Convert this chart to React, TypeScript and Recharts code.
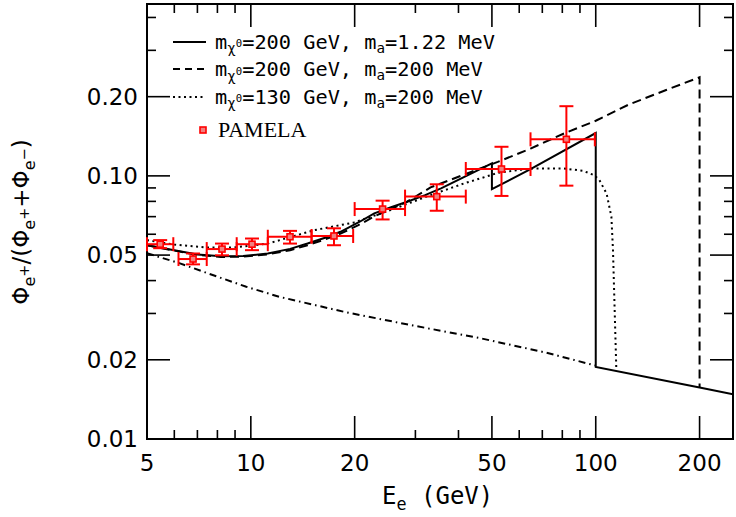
import {
  ComposedChart,
  XAxis,
  YAxis,
  Line,
  Scatter,
  ErrorBar,
  ReferenceArea,
} from "recharts";

// plot box in px (follows from the chart margins below)
const PLOT_LEFT = 147;
const PLOT_RIGHT = 733;
const PLOT_TOP = 4;
const PLOT_BOTTOM = 439;

const xTicks = [5, 6, 7, 8, 9, 10, 20, 30, 40, 50, 60, 70, 80, 90, 100, 200];
const xMajor = [5, 10, 20, 50, 100, 200];
const yTicks = [0.01, 0.02, 0.03, 0.04, 0.05, 0.06, 0.07, 0.08, 0.09, 0.1, 0.2, 0.3, 0.4];
const yMajor = [0.01, 0.02, 0.05, 0.1, 0.2];
const yMajorLabels = ["0.01", "0.02", "0.05", "0.10", "0.20"];

// m_chi = 200 GeV, m_a = 1.22 MeV
const solidE = [5, 6, 7, 8.2, 9.5, 11.2, 13, 14.6, 16.5, 18.2, 20.5, 22.8, 25.5, 28.4, 32, 35.6, 41.6, 50, 50, 64.7, 100, 100, 200, 250];
const solidV = [0.0545, 0.0522, 0.0503, 0.0495, 0.0496, 0.0507, 0.0528, 0.0553, 0.0583, 0.0613, 0.0665, 0.072, 0.076, 0.0797, 0.0845, 0.0896, 0.0991, 0.1115, 0.089, 0.106, 0.1455, 0.0188, 0.0157, 0.0148];

// m_chi = 200 GeV, m_a = 200 MeV
const dashE = [5, 6, 7, 8.2, 9.5, 11.2, 13, 14.6, 16.5, 18.2, 20.5, 23, 28, 33.2, 43.5, 52, 64.7, 81, 100, 125, 160, 200, 200];
const dashV = [0.0545, 0.052, 0.0501, 0.0492, 0.0493, 0.0503, 0.0522, 0.0545, 0.0575, 0.0603, 0.065, 0.0705, 0.079, 0.0904, 0.1035, 0.113, 0.127, 0.145, 0.162, 0.187, 0.212, 0.237, 0.0157];

// m_chi = 130 GeV, m_a = 200 MeV
const dotE = [5, 6, 7.5, 9, 11.2, 13, 15.3, 19.9, 25, 33.2, 41.5, 52, 64.7, 80.9, 92, 99, 102.5, 107.5, 111, 112.2, 114.7];
const dotV = [0.057, 0.0548, 0.0534, 0.0535, 0.0553, 0.0585, 0.0622, 0.0665, 0.0735, 0.0845, 0.0936, 0.1026, 0.1067, 0.1067, 0.1045, 0.1006, 0.0963, 0.0857, 0.07, 0.0522, 0.0186];

// secondary background
const bgE = [5, 6.2, 7.75, 9.7, 12.1, 18.9, 29.5, 46, 71.7, 100];
const bgV = [0.0508, 0.0466, 0.042, 0.0379, 0.0347, 0.0303, 0.027, 0.0242, 0.0213, 0.019];

// PAMELA
const pamE = [5.46, 6.8, 8.25, 10.08, 12.99, 17.42, 24.1, 34.6, 53.3, 82.2];
const pamELo = [5.0, 6.17, 7.45, 9.1, 11.2, 15.0, 20.0, 28.0, 42.0, 64.7];
const pamEHi = [5.96, 7.45, 9.1, 11.2, 15.0, 19.8, 28.0, 42.0, 64.7, 99.4];
const pamV = [0.055, 0.0483, 0.0527, 0.055, 0.0587, 0.0591, 0.0748, 0.0834, 0.1062, 0.1377];
const pamVLo = [0.0531, 0.0461, 0.0499, 0.0522, 0.0553, 0.0545, 0.0683, 0.0737, 0.0839, 0.0918];
const pamVHi = [0.057, 0.0507, 0.0553, 0.0578, 0.0618, 0.0632, 0.0805, 0.0929, 0.129, 0.184];

const toPts = (es: number[], vs: number[]) => es.map((e, i) => ({ e, v: vs[i] }));

const solid = toPts(solidE, solidV);
const dashed = toPts(dashE, dashV);
const dotted = toPts(dotE, dotV);
const background = toPts(bgE, bgV);
const pamela = pamE.map((e, i) => ({
  e,
  v: pamV[i],
  ex: [e - pamELo[i], pamEHi[i] - e],
  ey: [pamV[i] - pamVLo[i], pamVHi[i] - pamV[i]],
}));

const tickFont = { fontFamily: "DejaVu Sans", fontSize: 23, fill: "#000" };
const monoFont = "'DejaVu Sans Mono', monospace";

const XTick = ({ x, payload }: any) => {
  const val = payload.value;
  const major = xMajor.includes(val);
  const len = major ? 23 : 9;
  return (
    <g>
      <line x1={x} x2={x} y1={PLOT_BOTTOM} y2={PLOT_BOTTOM - len} stroke="#000" strokeWidth={1.6} />
      <line x1={x} x2={x} y1={PLOT_TOP} y2={PLOT_TOP + len} stroke="#000" strokeWidth={1.6} />
      {major && (
        <text x={x} y={471} textAnchor="middle" {...tickFont}>
          {val}
        </text>
      )}
    </g>
  );
};

const YTick = ({ y, payload }: any) => {
  const val = payload.value;
  const idx = yMajor.findIndex((m) => Math.abs(m - val) < 1e-9);
  const len = idx >= 0 ? 23 : 9;
  return (
    <g>
      <line x1={PLOT_LEFT} x2={PLOT_LEFT + len} y1={y} y2={y} stroke="#000" strokeWidth={1.6} />
      <line x1={PLOT_RIGHT - len} x2={PLOT_RIGHT} y1={y} y2={y} stroke="#000" strokeWidth={1.6} />
      {idx >= 0 && (
        <text x={138} y={y} dy="0.36em" textAnchor="end" {...tickFont}>
          {yMajorLabels[idx]}
        </text>
      )}
    </g>
  );
};

const PamelaSquare = ({ cx, cy }: any) => (
  <rect x={cx - 3} y={cy - 3} width={6} height={6} fill="#f08080" stroke="#ff0000" strokeWidth={1.6} />
);

const legendRows = [
  { dash: undefined, mass: "200", ma: "1.22" },
  { dash: "7 5", mass: "200", ma: "200" },
  { dash: "2 3.5", mass: "130", ma: "200" },
];

const Legend = () => (
  <>
    {legendRows.map((r, i) => (
      <div
        key={i}
        style={{
          position: "absolute",
          left: 173,
          top: 28 + i * 27.3,
          height: 28,
          display: "flex",
          alignItems: "center",
          whiteSpace: "nowrap",
        }}
      >
        <svg width={33} height={4}>
          <line x1={0} x2={33} y1={2} y2={2} stroke="#000" strokeWidth={2} strokeDasharray={r.dash} />
        </svg>
        <span style={{ marginLeft: 9, fontFamily: monoFont, fontSize: 20.3, lineHeight: "28px" }}>
          m
          <sub style={{ fontSize: "0.7em", verticalAlign: "-0.3em", lineHeight: 0 }}>
            χ<sup style={{ fontSize: "0.75em", verticalAlign: "0.6em", lineHeight: 0 }}>0</sup>
          </sub>
          ={r.mass} GeV, m
          <sub style={{ fontSize: "0.7em", verticalAlign: "-0.3em", lineHeight: 0 }}>a</sub>={r.ma} MeV
        </span>
      </div>
    ))}
    <div style={{ position: "absolute", left: 197, top: 116, height: 28, display: "flex", alignItems: "center" }}>
      <svg width={12} height={12}>
        <rect x={3} y={3} width={6} height={6} fill="#f08080" stroke="#ff0000" strokeWidth={1.6} />
      </svg>
      <span style={{ marginLeft: 9, fontFamily: "'Liberation Serif', serif", fontSize: 22, lineHeight: "28px" }}>
        PAMELA
      </span>
    </div>
  </>
);

export default function App() {
  return (
    <div style={{ position: "absolute", left: 0, top: 0, width: 736, height: 517, background: "#fff" }}>
      <ComposedChart width={736} height={517} margin={{ top: 4, right: 3, bottom: 0, left: 0 }}>
        <XAxis
          type="number"
          dataKey="e"
          scale="log"
          domain={[5, 250]}
          ticks={xTicks}
          interval={0}
          tick={XTick}
          tickLine={false}
          axisLine={false}
          height={78}
          allowDataOverflow
        />
        <YAxis
          type="number"
          dataKey="v"
          scale="log"
          domain={[0.01, 0.45]}
          ticks={yTicks}
          interval={0}
          tick={YTick}
          tickLine={false}
          axisLine={false}
          width={147}
          allowDataOverflow
        />
        <Line data={background} dataKey="v" type="linear" stroke="#000" strokeWidth={2} strokeDasharray="7 4 1.5 4" dot={false} isAnimationActive={false} />
        <Line data={dotted} dataKey="v" type="linear" stroke="#000" strokeWidth={2} strokeDasharray="2 3.5" dot={false} isAnimationActive={false} />
        <Line data={dashed} dataKey="v" type="linear" stroke="#000" strokeWidth={2} strokeDasharray="9 5" dot={false} isAnimationActive={false} />
        <Line data={solid} dataKey="v" type="linear" stroke="#000" strokeWidth={2} dot={false} isAnimationActive={false} />
        <Scatter data={pamela} dataKey="v" shape={PamelaSquare} isAnimationActive={false}>
          <ErrorBar dataKey="ex" direction="x" width={7} stroke="#ff0000" strokeWidth={2} />
          <ErrorBar dataKey="ey" direction="y" width={7} stroke="#ff0000" strokeWidth={2} />
        </Scatter>
        <ReferenceArea x1={5} x2={250} y1={0.01} y2={0.45} fill="none" stroke="#000" strokeWidth={2} ifOverflow="visible" />
      </ComposedChart>
      <Legend />
      <div
        style={{
          position: "absolute",
          left: 21,
          top: 222,
          transform: "translate(-50%, -50%) rotate(-90deg)",
          whiteSpace: "nowrap",
          fontFamily: "'DejaVu Sans', sans-serif",
          fontSize: 23,
        }}
      >
        Φ<sub style={{ fontSize: "0.7em", lineHeight: 0 }}>e<sup style={{ fontSize: "0.9em" }}>+</sup></sub>/(Φ
        <sub style={{ fontSize: "0.7em", lineHeight: 0 }}>e<sup style={{ fontSize: "0.9em" }}>+</sup></sub>+Φ
        <sub style={{ fontSize: "0.7em", lineHeight: 0 }}>e<sup style={{ fontSize: "0.9em" }}>−</sup></sub>)
      </div>
      <div
        style={{
          position: "absolute",
          left: 382,
          top: 482,
          whiteSpace: "nowrap",
          fontFamily: monoFont,
          fontSize: 24,
          lineHeight: "28px",
        }}
      >
        E<sub style={{ fontSize: "0.7em", lineHeight: 0 }}>e</sub> (GeV)
      </div>
    </div>
  );
}
